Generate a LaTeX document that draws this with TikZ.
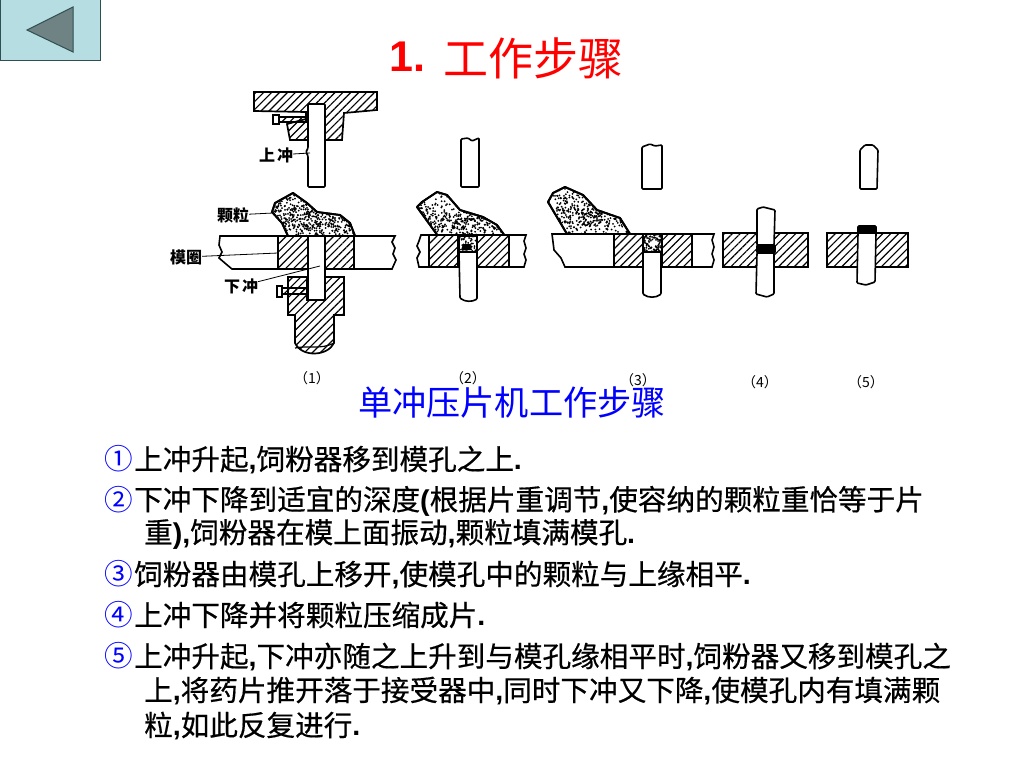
\documentclass[tikz,border=0pt]{standalone}
\usepackage{fontspec}
\setmainfont{Noto Sans CJK SC}
\newfontfamily\latinbold{Liberation Sans Bold}
\newfontfamily\cjkbody[FakeBold=0.5]{Noto Sans CJK SC}
\usetikzlibrary{patterns.meta}
\definecolor{backfill}{HTML}{B6DDE1}
\definecolor{backtri}{HTML}{6F8284}
\definecolor{backline}{HTML}{2F4F52}
\newcommand{\cma}{{\latinbold ,}}
\newcommand{\dt}{{\latinbold .}}
\tikzstyle{hatched} = [draw=black, line width=1.7pt, pattern={Lines[angle=45,distance=5.6pt,line width=1.15pt]}]
\tikzstyle{outline} = [draw=black, line width=1.6pt, fill=white]
\tikzstyle{punch} = [draw=black, line width=1.6pt, fill=white, rounded corners=1pt]
\tikzstyle{grainedge} = [draw=black, line width=1.9pt, line join=round]
\tikzstyle{lead} = [draw=black, line width=.8pt]
\tikzstyle{partname} = [font=\fontsize{16}{16}\selectfont\bfseries, inner sep=0pt]
\tikzstyle{stepnum} = [font=\fontsize{14}{14}\selectfont, inner sep=0pt]
\tikzstyle{textline} = [anchor=west, inner sep=0pt, font=\fontsize{28.6}{28.6}\selectfont\cjkbody]
\newcommand{\circled}[1]{\makebox[30pt][l]{\textcolor{blue}{\normalfont #1}}}
\newcommand{\grains}[6]{%
  \begin{scope}
    \clip #1;
    \pgfmathsetseed{#6}
    \foreach \n in {1,...,#2}{
      \pgfmathsetmacro\gx{#3+rnd*(#4-#3)}
      \pgfmathsetmacro\gy{#5+rnd*38}
      \fill (\gx,\gy) circle (1pt);
    }
  \end{scope}
  \draw[grainedge] #1;}
\begin{document}
\begin{tikzpicture}[x=1pt,y=-1pt]
\useasboundingbox (0,0) rectangle (1024,768);
\fill[white] (0,0) rectangle (1024,768);

\draw[fill=backfill, draw=backline, line width=1pt] (0,0) rectangle (100,60);
\draw[fill=backtri, draw=backline, line width=1pt] (27,30) -- (73,7) -- (73,52) -- cycle;

\node[inner sep=0pt, text=red, anchor=west, font=\fontsize{43}{43}\selectfont\latinbold] (titlenum) at (389,57) {1.};
\node[inner sep=0pt, text=red, anchor=west, font=\fontsize{45}{45}\selectfont] (titletext) at (443,58) {工作步骤};

% step 1
\draw[hatched] (254,92) -- (377,92) -- (377,110) -- (344,113) -- (342,140) -- (308,140) -- (290,140) -- (287,124) -- (306,119) -- (306,112) -- (254,111) -- cycle;
\draw[punch] (308,187) -- (308,156) -- (306,152) -- (308,148) -- (308,104) -- (325,104) -- (325,187) -- cycle;
\draw[outline] (273,115) rectangle (279,124);
\draw[hatched] (279,117) rectangle (306,122);
\def\granone{(288,236) -- (282,223) -- (272,212) -- (275,203) -- (293,193) -- (307,203) -- (317,212) -- (340,215) -- (350,223) -- (355,236) -- cycle}
\grains{\granone}{320}{272}{355}{193}{1}
\grains{\granone}{340}{272}{355}{205}{2}
\draw[outline] (220,236) -- (395,236) -- (392,242) -- (395,248) -- (393,254) -- (396,260) -- (392,269) -- (232,269) -- (226,264) -- (219,258) -- (222,252) -- (219,245) -- cycle;
\draw[hatched] (278,236) rectangle (308,269);
\draw[hatched] (325,236) rectangle (354,269);
\draw[hatched] (288,277) -- (307,277) -- (307,300) -- (325,300) -- (325,277) -- (344,277) -- (344,315) -- (334,315) -- (334,343) .. controls (328,356) and (302,358) .. (295,343) -- (295,315) -- (288,315) -- cycle;
\draw[punch] (308,300) -- (308,236) -- (325,236) -- (325,300) -- cycle;
\draw[line width=1.2pt] (295,348) .. controls (310,345) and (320,350) .. (334,343);
\draw[outline] (277,286) rectangle (282,297);
\draw[hatched] (282,288) rectangle (308,294);
\node[partname] (upperpunch) at (276,155) {上\hspace{2pt}冲};
\node[partname] (granule) at (233,215) {颗粒};
\node[partname] (diering) at (186,257) {模圈};
\node[partname] (lowerpunch) at (241,286) {下\hspace{2pt}冲};
\coordinate (upperend) at (310,153);
\coordinate (granend) at (273,213);
\coordinate (ringend) at (278,253);
\coordinate (lowerend) at (320,266);
\draw[lead] (upperpunch) -- (upperend);
\draw[lead] (granule) -- (granend);
\draw[lead] (diering) -- (ringend);
\draw[lead] (lowerpunch) -- (lowerend);
\node[stepnum] (numone) at (312,378) {（1）};

% step 2
\draw[punch] (461,187) -- (461,139) -- (468,138) -- (472,141) -- (479,138) -- (479,187) -- cycle;
\def\grantwo{(417,207) -- (422,202) -- (437,192) -- (447,195) -- (460,210) -- (483,217) -- (497,225) -- (505,236) -- (477,236) -- (477,252) -- (459,252) -- (459,236) -- (438,236) -- cycle}
\grains{\grantwo}{300}{417}{505}{192}{3}
\grains{\grantwo}{340}{417}{505}{214}{4}
\draw[outline] (421,235) -- (526,235) -- (524,241) -- (526,248) -- (524,254) -- (526,260) -- (524,267) -- (419,267) -- (417,258) -- (420,252) -- (417,246) -- (419,241) -- cycle;
\draw[hatched] (429,235) rectangle (458,267);
\draw[hatched] (477,235) rectangle (509,267);
\def\grantwohole{(459,236) rectangle (477,252)}
\grains{\grantwohole}{80}{459}{477}{230}{5}
\fill (463,244) -- (470,244) -- (472,250) -- (461,250) -- cycle;
\draw[punch] (459,252) -- (477,252) -- (477,299) .. controls (472,302) and (465,302) .. (460,298) -- cycle;

% step 3
\draw[punch] (642,189) -- (642,147) -- (650,144) -- (655,146) -- (662,145) -- (662,189) -- cycle;
\def\granthree{(548,202) -- (553,193) -- (565,187) -- (583,195) -- (597,210) -- (620,218) -- (630,234) -- (567,234) -- cycle}
\grains{\granthree}{300}{548}{630}{187}{6}
\grains{\granthree}{340}{548}{630}{208}{7}
\draw[outline] (552,234) -- (714,234) -- (712,240) -- (714,247) -- (712,254) -- (714,260) -- (712,267) -- (565,267) -- (561,258) -- (554,250) -- cycle;
\draw[hatched] (614,234) rectangle (643,267);
\draw[hatched] (662,234) rectangle (692,267);
\def\granthreehole{(643,234) rectangle (662,252)}
\grains{\granthreehole}{170}{643}{662}{226}{8}
\draw[punch] (643,252) -- (661,252) -- (661,294) .. controls (656,298) and (648,298) .. (643,294) -- cycle;
\node[stepnum] (numtwo) at (468,378) {（2）};
\node[stepnum] (numthree) at (638,380) {（3）};

% step 4
\draw[hatched] (723,233) rectangle (808,267);
\draw[punch, fill=black] (757,245) rectangle (775,253);
\draw[punch] (757,245) -- (757,209) -- (763,207) -- (775,210) -- (774,245) -- cycle;
\draw[punch] (757,253) -- (774,253) -- (774,294) -- (767,297) -- (756,294) -- cycle;
\node[stepnum] (numfour) at (760,382) {（4）};

% step 5
\draw[punch] (860,189) -- (860,150) -- (865,145) -- (873,145) -- (878,150) -- (877,189) -- cycle;
\draw[hatched] (827,233) rectangle (908,267);
\draw[punch, fill=black] (858,226) rectangle (876,233);
\draw[punch] (858,233) -- (876,233) -- (875,282) -- (866,285) -- (857,283) -- cycle;
\node[stepnum] (numfive) at (866,382) {（5）};

\node[inner sep=0pt, text=blue, font=\fontsize{34.2}{34.2}\selectfont] (caption) at (512,403) {单冲压片机工作步骤};

\node[textline] (lineone) at (104,460) {\circled{①}上冲升起\cma 饲粉器移到模孔之上\dt};
\node[textline] (linetwo) at (104,501) {\circled{②}下冲下降到适宜的深度{\latinbold (}根据片重调节\cma 使容纳的颗粒重恰等于片};
\node[textline] (linetwob) at (144,534) {重{\latinbold )}\cma 饲粉器在模上面振动\cma 颗粒填满模孔\dt};
\node[textline] (linethree) at (104,575) {\circled{③}饲粉器由模孔上移开\cma 使模孔中的颗粒与上缘相平\dt};
\node[textline] (linefour) at (104,615) {\circled{④}上冲下降并将颗粒压缩成片\dt};
\node[textline] (linefive) at (104,657) {\circled{⑤}上冲升起\cma 下冲亦随之上升到与模孔缘相平时\cma 饲粉器又移到模孔之};
\node[textline] (linefiveb) at (144,691) {上\cma 将药片推开落于接受器中\cma 同时下冲又下降\cma 使模孔内有填满颗};
\node[textline] (linefivec) at (144,726) {粒\cma 如此反复进行\dt};
\end{tikzpicture}
\end{document}
